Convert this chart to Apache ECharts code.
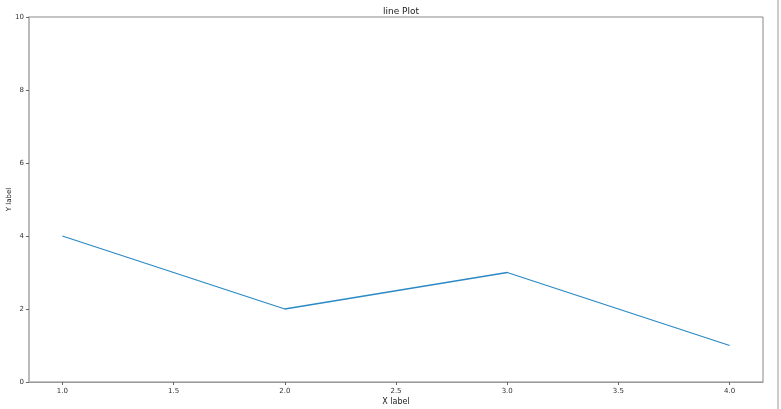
<!DOCTYPE html>
<html><head><meta charset="utf-8">
<script src="https://cdn.jsdelivr.net/npm/echarts@6/dist/echarts.min.js"></script>
<style>html,body{margin:0;padding:0;background:#fff}#c{width:781px;height:409px}</style>
</head><body><div id="c"></div>
<script>
const xValues = [1, 2, 3, 4];
const yValues = [4, 2, 3, 1];
const xTicks = [1.0, 1.5, 2.0, 2.5, 3.0, 3.5, 4.0];
const yTicks = [0, 2, 4, 6, 8, 10];
const title = 'line Plot';
const xName = 'X label';
const yName = 'Y label';

const chart = echarts.init(document.getElementById('c'));
const font = 'DejaVu Sans';
chart.setOption({
  animation: false,
  title: { text: title, left: 396, top: 2, textAlign: 'center',
    textStyle: { fontFamily: font, fontSize: 9, fontWeight: 'normal', color: '#222' } },
  grid: { left: 29, right: 18, top: 17, bottom: 27, show: true, borderColor: '#888', borderWidth: 1,
    containLabel: false, outerBoundsMode: 'none' },
  graphic: [{ type: 'line', shape: { x1: 778, y1: 0, x2: 778, y2: 409 }, style: { stroke: '#bbb', lineWidth: 1.5 } }],
  xAxis: {
    type: 'value', min: 0.85, max: 4.15,
    name: xName, nameLocation: 'middle', nameGap: 16, nameMoveOverlap: false,
    nameTextStyle: { fontFamily: font, fontSize: 8, color: '#222' },
    axisLine: { show: true, lineStyle: { color: '#999', width: 1 } },
    axisTick: { show: true, customValues: xTicks, length: 3, lineStyle: { color: '#666' } },
    axisLabel: { customValues: xTicks, formatter: v => v.toFixed(1), fontFamily: font, fontSize: 7, color: '#333', margin: 6 },
    splitLine: { show: false }
  },
  yAxis: {
    type: 'value', min: 0, max: 10, interval: 2,
    name: yName, nameLocation: 'middle', nameGap: 16, nameRotate: 90, nameMoveOverlap: false,
    nameTextStyle: { fontFamily: font, fontSize: 7, color: '#222' },
    axisLine: { show: true, lineStyle: { color: '#bbb', width: 2 } },
    axisTick: { show: true, length: 3, lineStyle: { color: '#666' } },
    axisLabel: { fontFamily: font, fontSize: 7, color: '#333', margin: 5 },
    splitLine: { show: false }
  },
  series: [{
    type: 'line', data: xValues.map((x, i) => [x, yValues[i]]),
    showSymbol: false, lineStyle: { color: '#2b89c4', width: 1.3 }
  }]
});
</script></body></html>
